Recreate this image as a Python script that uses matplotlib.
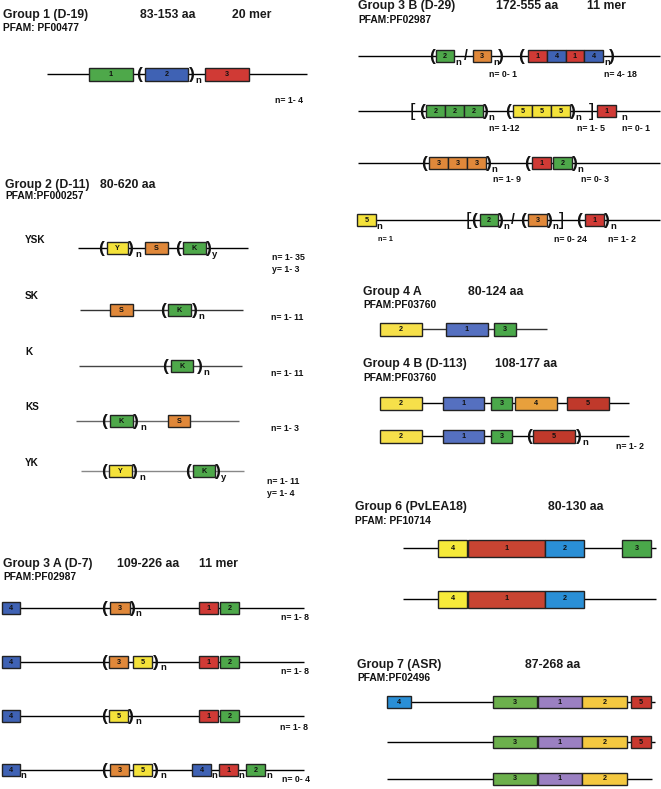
import matplotlib
matplotlib.use('Agg')
import matplotlib.pyplot as plt
from matplotlib.patches import Rectangle

plt.rcParams['font.family'] = ['Liberation Sans', 'DejaVu Sans']

# ---------------- colours ----------------
GREEN, BLUE, RED, ORANGE, YELLOW = '#4ea84a', '#3f62b4', '#d03a35', '#e0883a', '#f4e23a'
Y4, B4, G4, O4, R4 = '#f6e04a', '#5570c0', '#4aa84a', '#e8a03c', '#c0392b'
Y6, R6, B6, G6 = '#f6ea3a', '#c84432', '#2a8fd6', '#4aa84a'
B7, G7, P7, Y7, R7 = '#2a8fd6', '#6cb04c', '#9b80c2', '#f4c840', '#c8382e'

# ---------------- text content ----------------
titles = [
    (3, 15, "Group 1 (D-19)"), (140, 15, "83-153 aa"), (232, 15, "20 mer"),
    (5, 185, "Group 2 (D-11)"), (100, 185, "80-620 aa"),
    (3, 564, "Group 3 A (D-7)"), (117, 564, "109-226 aa"), (199, 564, "11 mer"),
    (358, 6, "Group 3 B (D-29)"), (496, 6, "172-555 aa"), (587, 6, "11 mer"),
    (363, 292, "Group 4 A"), (468, 292, "80-124 aa"),
    (363, 364, "Group 4 B (D-113)"), (495, 364, "108-177 aa"),
    (355, 507, "Group 6 (PvLEA18)"), (548, 507, "80-130 aa"),
    (357, 665, "Group 7 (ASR)"), (525, 665, "87-268 aa"),
]
pfams = [
    (3, 28, "PFAM: PF00477"), (5, 196, "PFAM:PF000257"), (3, 577, "PFAM:PF02987"),
    (358, 20, "PFAM:PF02987"), (363, 305, "PFAM:PF03760"), (363, 378, "PFAM:PF03760"),
    (355, 521, "PFAM: PF10714"), (357, 678, "PFAM:PF02496"),
]
subtype_labels = [(25, 240, "YSK"), (25, 296, "SK"), (25, 352, "K"), (25, 407, "KS"), (25, 463, "YK")]
notes = [
    (275, 100, "n= 1- 4"),
    (272, 257, "n= 1- 35"), (272, 269, "y= 1- 3"), (271, 317, "n= 1- 11"), (271, 373, "n= 1- 11"),
    (271, 428, "n= 1- 3"), (267, 481, "n= 1- 11"), (267, 493, "y= 1- 4"),
    (281, 618, "n= 1- 8"), (281, 672, "n= 1- 8"), (280, 727, "n= 1- 8"), (282, 780, "n= 0- 4"),
    (489, 74, "n= 0- 1"), (604, 74, "n= 4- 18"),
    (489, 128, "n= 1-12"), (577, 128, "n= 1- 5"), (622, 128, "n= 0- 1"),
    (493, 179, "n= 1- 9"), (581, 179, "n= 0- 3"),
    (554, 239, "n= 0- 24"), (608, 239, "n= 1- 2"),
    (616, 446, "n= 1- 2"),
]
small_notes = [(378, 239, "n= 1")]

# ---------------- domain rows: (y, box height, line spans, line colour, items) ----------------
rows = [
    # Group 1
    (74, 13, [(47, 307)], 'black', [('b', 89, 133, GREEN, '1'), ('(', 139), ('b', 145, 188, BLUE, '2'), (')', 192), ('n', 198, 'n'), ('b', 205, 249, RED, '3')]),
    # Group 2
    (248, 12, [(78, 248)], 'black', [('(', 101), ('b', 107, 128, YELLOW, 'Y'), (')', 131), ('n', 138, 'n'), ('b', 145, 168, ORANGE, 'S'),
                                       ('(', 178), ('b', 183, 206, GREEN, 'K'), (')', 209), ('n', 215, 'y')]),
    (310, 12, [(80, 243)], '#333333', [('b', 110, 133, ORANGE, 'S'), ('(', 163), ('b', 168, 191, GREEN, 'K'), (')', 195), ('n', 201, 'n')]),
    (366, 12, [(79, 242)], '#444444', [('(', 165), ('b', 171, 193, GREEN, 'K'), (')', 200), ('n', 206, 'n')]),
    (421, 12, [(76, 239)], '#666666', [('(', 104), ('b', 110, 133, GREEN, 'K'), (')', 136), ('n', 143, 'n'), ('b', 168, 190, ORANGE, 'S')]),
    (471, 12, [(81, 244)], '#888888', [('(', 104), ('b', 109, 132, YELLOW, 'Y'), (')', 135), ('n', 142, 'n'),
                                        ('(', 188), ('b', 193, 215, GREEN, 'K'), (')', 218), ('n', 224, 'y')]),
    # Group 3 A
    (608, 12, [(20, 304)], 'black', [('b', 2, 20, BLUE, '4'), ('(', 104), ('b', 110, 130, ORANGE, '3'), (')', 133), ('n', 138, 'n'),
                                      ('b', 199, 218, RED, '1'), ('b', 220, 239, GREEN, '2')]),
    (662, 12, [(20, 304)], 'black', [('b', 2, 20, BLUE, '4'), ('(', 104), ('b', 109, 128, ORANGE, '3'), ('b', 133, 152, YELLOW, '5'),
                                      (')', 156), ('n', 163, 'n'), ('b', 199, 218, RED, '1'), ('b', 220, 239, GREEN, '2')]),
    (716, 12, [(20, 304)], 'black', [('b', 2, 20, BLUE, '4'), ('(', 104), ('b', 109, 128, YELLOW, '5'), (')', 131), ('n', 138, 'n'),
                                      ('b', 199, 218, RED, '1'), ('b', 220, 239, GREEN, '2')]),
    (770, 12, [(20, 304)], 'black', [('b', 2, 20, BLUE, '4'), ('n', 23, 'n'), ('(', 104), ('b', 110, 129, ORANGE, '3'), ('b', 133, 152, YELLOW, '5'),
                                      (')', 156), ('n', 163, 'n'), ('b', 192, 211, BLUE, '4'), ('n', 214, 'n'),
                                      ('b', 219, 238, RED, '1'), ('n', 241, 'n'), ('b', 246, 265, GREEN, '2'), ('n', 269, 'n')]),
    # Group 3 B
    (56, 12, [(358, 660)], 'black', [('(', 432), ('b', 436, 454, GREEN, '2'), ('n', 458, 'n'), ('/', 466), ('b', 473, 491, ORANGE, '3'),
                                      ('n', 496, 'n'), (')', 501), ('(', 521), ('b', 528, 547, RED, '1'), ('b', 547, 566, BLUE, '4'),
                                      ('b', 566, 584, RED, '1'), ('b', 584, 603, BLUE, '4'), ('n', 607, 'n'), (')', 612)]),
    (111, 12, [(358, 660)], 'black', [('[', 412), ('(', 422), ('b', 426, 445, GREEN, '2'), ('b', 445, 464, GREEN, '2'), ('b', 464, 483, GREEN, '2'),
                                       (')', 486), ('n', 491, 'n'), ('(', 508), ('b', 513, 532, YELLOW, '5'), ('b', 532, 551, YELLOW, '5'),
                                       ('b', 551, 570, YELLOW, '5'), (')', 573), ('n', 578, 'n'), (']', 592), ('b', 597, 616, RED, '1'), ('n', 624, 'n')]),
    (163, 12, [(358, 660)], 'black', [('(', 424), ('b', 429, 448, ORANGE, '3'), ('b', 448, 467, ORANGE, '3'), ('b', 467, 486, ORANGE, '3'),
                                       (')', 489), ('n', 494, 'n'), ('(', 527), ('b', 532, 551, RED, '1'), ('b', 553, 572, GREEN, '2'),
                                       (')', 575), ('n', 580, 'n')]),
    (220, 12, [(376, 660)], 'black', [('b', 357, 376, YELLOW, '5'), ('n', 379, 'n'), ('[', 468), ('(', 474), ('b', 480, 498, GREEN, '2'),
                                       (')', 501), ('n', 506, 'n'), ('/', 513), ('(', 523), ('b', 528, 547, ORANGE, '3'), (')', 550),
                                       ('n', 555, 'n'), (']', 562), ('(', 579), ('b', 585, 604, RED, '1'), (')', 607), ('n', 613, 'n')]),
    # Group 4 A
    (329, 13, [(422, 547)], '#333333', [('b', 380, 422, Y4, '2'), ('b', 446, 488, B4, '1'), ('b', 494, 516, G4, '3')]),
    # Group 4 B
    (403, 13, [(422, 629)], 'black', [('b', 380, 422, Y4, '2'), ('b', 443, 484, B4, '1'), ('b', 491, 512, G4, '3'),
                                       ('b', 515, 557, O4, '4'), ('b', 567, 609, R4, '5')]),
    (436, 13, [(422, 629)], 'black', [('b', 380, 422, Y4, '2'), ('b', 443, 484, B4, '1'), ('b', 491, 512, G4, '3'),
                                       ('(', 529), ('b', 533, 575, R4, '5'), (')', 579), ('n', 585, 'n')]),
    # Group 6
    (548, 17, [(403, 656)], 'black', [('b', 438, 467, Y6, '4'), ('b', 468, 545, R6, '1'), ('b', 545, 584, B6, '2'), ('b', 622, 651, G6, '3')]),
    (599, 17, [(403, 656)], 'black', [('b', 438, 467, Y6, '4'), ('b', 468, 545, R6, '1'), ('b', 545, 584, B6, '2')]),
    # Group 7
    (702, 12, [(411, 655)], 'black', [('b', 387, 411, B7, '4'), ('b', 493, 537, G7, '3'), ('b', 538, 582, P7, '1'),
                                       ('b', 582, 627, Y7, '2'), ('b', 631, 651, R7, '5')]),
    (742, 12, [(387, 655)], 'black', [('b', 493, 537, G7, '3'), ('b', 538, 582, P7, '1'), ('b', 582, 627, Y7, '2'), ('b', 631, 651, R7, '5')]),
    (779, 12, [(387, 652)], 'black', [('b', 493, 537, G7, '3'), ('b', 538, 582, P7, '1'), ('b', 582, 627, Y7, '2')]),
]

# ---------------- drawing ----------------
fig = plt.figure(figsize=(6.61, 7.89), dpi=100)
ax = fig.add_axes([0, 0, 1, 1])
ax.set_xlim(0, 661)
ax.set_ylim(789, 0)
ax.axis('off')

for x, y, s in titles:
    ax.text(x, y, s, ha='left', va='center', fontsize=8.8, fontweight='bold', color='#1a1a1a')
for x, y, s in pfams:
    ax.text(x, y, s, ha='left', va='center', fontsize=7.4, fontweight='bold', color='#111111')
for x, y, s in subtype_labels:
    ax.text(x, y, s, ha='left', va='center', fontsize=7.2, fontweight='bold', color='#111111')
for x, y, s in notes:
    ax.text(x, y, s, ha='left', va='center', fontsize=6.3, fontweight='bold', color='#111111')
for x, y, s in small_notes:
    ax.text(x, y, s, ha='left', va='center', fontsize=5.2, fontweight='bold', color='#111111')

for y, h, spans, lc, items in rows:
    for x0, x1 in spans:
        ax.plot([x0, x1], [y, y], color=lc, lw=1.0, solid_capstyle='butt', zorder=1)
    for it in items:
        kind = it[0]
        if kind == 'b':
            _, x0, x1, col, lab = it
            ax.add_patch(Rectangle((x0, y - h / 2), x1 - x0, h, facecolor=col,
                                   edgecolor='#222222', lw=1.0, zorder=2))
            ax.text((x0 + x1) / 2, y, lab, ha='center', va='center', fontsize=5.2,
                    fontweight='bold', color='#111111', zorder=3)
        elif kind in '()':
            ax.text(it[1], y, kind, ha='center', va='center', fontsize=12.5,
                    fontweight='bold', color='#111111', zorder=3)
        elif kind in '[]':
            ax.text(it[1], y, kind, ha='center', va='center', fontsize=14,
                    fontweight='normal', color='#111111', zorder=3)
        elif kind == '/':
            ax.text(it[1], y, '/', ha='center', va='center', fontsize=10,
                    fontweight='bold', color='#111111', zorder=3)
        elif kind == 'n':
            ax.text(it[1], y + 6, it[2], ha='center', va='center', fontsize=6.8,
                    fontweight='bold', color='#111111', zorder=3)

fig.savefig('out.png', dpi=100, facecolor='white')
